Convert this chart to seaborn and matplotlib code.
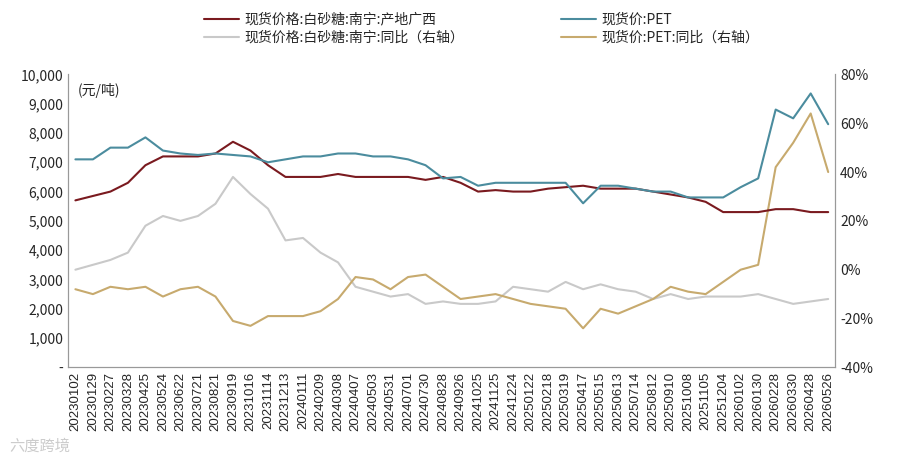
import matplotlib
matplotlib.use("Agg")
import matplotlib.pyplot as plt
import matplotlib.ticker as mticker
import seaborn as sns
import pandas as pd
import numpy as np

dates = ["20230102","20230129","20230227","20230328","20230425","20230524","20230622","20230721","20230821","20230919",
         "20231016","20231114","20231213","20240111","20240209","20240308","20240407","20240503","20240531","20240701",
         "20240730","20240828","20240926","20241025","20241125","20241224","20250122","20250218","20250319","20250417",
         "20250515","20250613","20250714","20250812","20250910","20251008","20251105","20251204","20260102","20260130",
         "20260228","20260330","20260428","20260526"]

sugar = [5700,5850,6000,6300,6900,7200,7200,7200,7300,7700,7400,6900,6500,6500,6500,6600,6500,6500,6500,6500,
         6400,6500,6300,6000,6050,6000,6000,6100,6150,6200,6100,6100,6100,6000,5900,5800,5650,5300,5300,5300,
         5400,5400,5300,5300]
pet = [7100,7100,7500,7500,7850,7400,7300,7250,7300,7250,7200,7000,7100,7200,7200,7300,7300,7200,7200,7100,
       6900,6450,6500,6200,6300,6300,6300,6300,6300,5600,6200,6200,6100,6000,6000,5800,5800,5800,6150,6450,
       8800,8500,9350,8300]
sugar_yoy = [0,2,4,7,18,22,20,22,27,38,31,25,12,13,7,3,-7,-9,-11,-10,-14,-13,-14,-14,-13,-7,-8,-9,-5,-8,
             -6,-8,-9,-12,-10,-12,-11,-11,-11,-10,-12,-14,-13,-12]
pet_yoy = [-8,-10,-7,-8,-7,-11,-8,-7,-11,-21,-23,-19,-19,-19,-17,-12,-3,-4,-8,-3,-2,-7,-12,-11,-10,-12,-14,-15,-16,-24,
           -16,-18,-15,-12,-7,-9,-10,-5,0,2,42,52,64,40]

labels = ["现货价格:白砂糖:南宁:产地广西", "现货价:PET", "现货价格:白砂糖:南宁:同比（右轴）", "现货价:PET:同比（右轴）"]
colors = ["#7a1a1f", "#4b8c9e", "#c9c9c9", "#c7aa6e"]

sns.set_style("white")
plt.rcParams['font.family'] = ['Noto Sans CJK SC', 'DejaVu Sans']

idx = np.arange(len(dates))
df = pd.DataFrame({"x": idx, "sugar": sugar, "pet": pet, "sugar_yoy": sugar_yoy, "pet_yoy": pet_yoy})

fig = plt.figure(figsize=(9, 4.65), dpi=100)
ax = fig.add_axes([0.076, 0.21, 0.852, 0.63])
ax2 = ax.twinx()

sns.lineplot(data=df, x="x", y="sugar_yoy", ax=ax2, color=colors[2], lw=1.5, label=labels[2], legend=False)
sns.lineplot(data=df, x="x", y="pet_yoy", ax=ax2, color=colors[3], lw=1.5, label=labels[3], legend=False)
sns.lineplot(data=df, x="x", y="sugar", ax=ax, color=colors[0], lw=1.5, label=labels[0], legend=False)
sns.lineplot(data=df, x="x", y="pet", ax=ax, color=colors[1], lw=1.5, label=labels[1], legend=False)
ax.set_zorder(ax2.get_zorder() + 1)
ax.patch.set_visible(False)

ax.set_ylim(0, 10000)
ax.set_yticks(np.arange(0, 10001, 1000))
ax.yaxis.set_major_formatter(mticker.FuncFormatter(lambda v, p: "-" if v == 0 else f"{int(v):,}"))
ax2.set_ylim(-40, 80)
ax2.set_yticks(np.arange(-40, 81, 20))
ax2.yaxis.set_major_formatter(mticker.FuncFormatter(lambda v, p: f"{int(v)}%"))
ax.set_xlim(-0.4, len(dates) - 0.6)
ax.set_xticks(idx)
ax.set_xticklabels(dates, rotation=90, fontsize=9.5, family=['Liberation Sans', 'DejaVu Sans'])
for a in (ax, ax2):
    a.set_xlabel(""); a.set_ylabel("")
    a.tick_params(axis='y', labelsize=10, length=0)
    a.spines["top"].set_visible(False)
    for s in ("left", "right", "bottom"):
        a.spines[s].set_color("#999999")
ax.tick_params(axis='x', length=0, pad=3)
ax.text(0.012, 0.97, "(元/吨)", transform=ax.transAxes, fontsize=10, va="top")

h1, l1 = ax.get_legend_handles_labels()
h2, l2 = ax2.get_legend_handles_labels()
fig.legend([h1[0], h2[0], h1[1], h2[1]], [l1[0], l2[0], l1[1], l2[1]], ncol=2, loc="upper center",
           bbox_to_anchor=(0.535, 1.0), frameon=False, fontsize=10, columnspacing=7, handlelength=2.5,
           handletextpad=0.4, labelspacing=0.3)
fig.text(0.01, 0.03, "六度跨境", fontsize=11, color="#cccccc")
fig.savefig("out.png", dpi=100)
